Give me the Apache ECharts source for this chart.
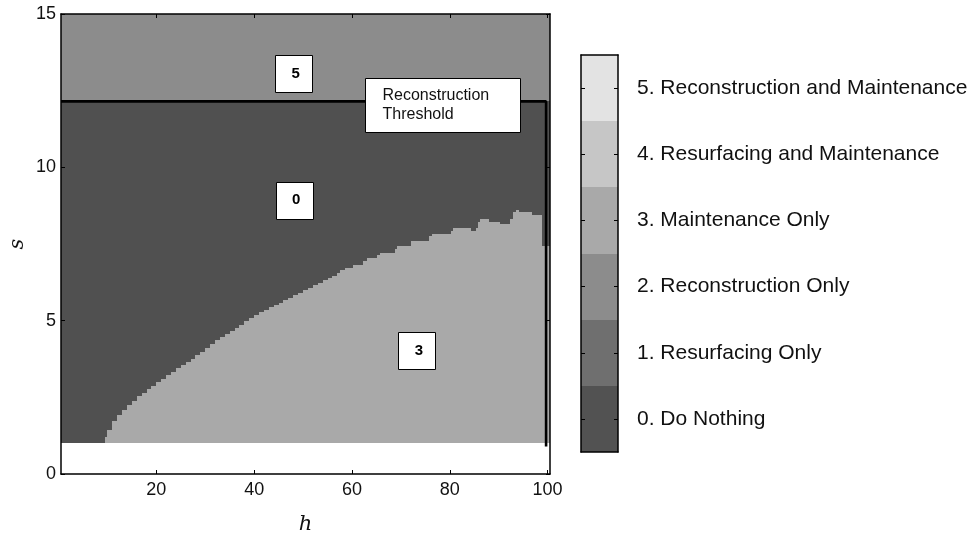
<!DOCTYPE html>
<html>
<head>
<meta charset="utf-8">
<script src="https://cdn.jsdelivr.net/npm/echarts@6/dist/echarts.min.js"></script>
<style>
  html, body { margin: 0; padding: 0; background: #fff; }
  #chart { width: 977px; height: 537px; }
</style>
</head>
<body>
<div id="chart"></div>
<script>
// ---- Strategy legend ----
const strategyCodes = [0, 1, 2, 3, 4, 5];
const strategyNames = [
  '0. Do Nothing',
  '1. Resurfacing Only',
  '2. Reconstruction Only',
  '3. Maintenance Only',
  '4. Resurfacing and Maintenance',
  '5. Reconstruction and Maintenance'
];
const legendShades = ['#525252', '#6f6f6f', '#8c8c8c', '#a9a9a9', '#c6c6c6', '#e3e3e3'];
// shades of the policy map itself, by strategy code
const mapShades = { 0: '#505050', 3: '#a9a9a9', 5: '#8c8c8c' };

// ---- Domain of the policy map ----
const hMin = 0.5, hMax = 100.5;
const sFloor = 1;          // no decision below this s
const sMax = 15;
const thresholdS = 12.15;  // reconstruction threshold in s
const thresholdH = 99.7;
const thresholdEndS = 0.9;

// ---- Boundary of the "Maintenance Only" zone: step start in h and step top in s ----
const stepStart = [
  9.4, 10, 11, 12, 13, 14, 15, 16, 17, 18, 19, 20, 21, 22, 23, 24, 25, 26, 27, 28, 29,
  30, 31, 32, 33, 34, 35, 36, 37, 38, 39, 40, 41, 42, 43, 44, 45, 46, 47, 48, 49,
  50, 51, 52, 53, 54, 55, 56, 57, 57.5, 58.6, 60.3, 62.2, 63.0, 65.2, 65.7, 68.8,
  69.2, 72.1, 75.8, 76.3, 80.3, 80.6, 84.3, 85.4, 85.7, 86.2, 88.1, 90.3, 92.3,
  92.9, 93.6, 94.2, 96.8, 98.8
];
const stepTop = [
  1.20, 1.45, 1.73, 1.92, 2.09, 2.24, 2.39, 2.53, 2.65, 2.76, 2.87, 2.99, 3.11, 3.22, 3.34, 3.45, 3.55, 3.65, 3.76, 3.87, 3.99,
  4.11, 4.24, 4.36, 4.47, 4.57, 4.67, 4.77, 4.87, 4.98, 5.08, 5.18, 5.27, 5.35, 5.43, 5.51, 5.59, 5.67, 5.75, 5.83, 5.91,
  5.99, 6.07, 6.15, 6.23, 6.31, 6.39, 6.47, 6.55, 6.66, 6.73, 6.82, 6.95, 7.04, 7.15, 7.22, 7.33,
  7.44, 7.61, 7.75, 7.83, 7.91, 8.01, 7.92, 8.01, 8.22, 8.31, 8.22, 8.15, 8.31,
  8.53, 8.62, 8.53, 8.44, 7.44
];

// ---- Axis ticks ----
const hTicks = [20, 40, 60, 80, 100];
const sTicks = [0, 5, 10, 15];

// ---- Region annotations ----
const regionNotes = [
  { text: '5', h: 48.1, s: 13.05 },
  { text: '0', h: 48.2, s: 8.93 },
  { text: '3', h: 73.3, s: 4.03 }
];
const thresholdNote = { text: 'Reconstruction\nThreshold', h: 78.6, s: 12.03 };

// Build region rectangles: [h0, h1, s0, s1, code]
const regionRects = [
  [hMin, hMax, thresholdS, sMax, 5],
  [hMin, hMax, sFloor, thresholdS, 0]
];
stepStart.forEach((h0, i) => {
  const h1 = i + 1 < stepStart.length ? stepStart[i + 1] : hMax;
  regionRects.push([h0, h1, sFloor, stepTop[i], 3]);
});

const thresholdLine = [[hMin, thresholdS], [thresholdH, thresholdS], [thresholdH, thresholdEndS]];

const labelFont = { fontFamily: 'Liberation Sans, Arial, sans-serif', color: '#111' };
const mathFont = { fontFamily: 'DejaVu Serif, Liberation Serif, serif', fontStyle: 'italic', fontSize: 21 };

const chart = echarts.init(document.getElementById('chart'), null, { renderer: 'canvas' });

const inTick = (vals, len) => ({ show: true, inside: true, length: len, customValues: vals, lineStyle: { color: '#000', width: 1 } });
const frameLine = { show: true, onZero: false, lineStyle: { color: '#000', width: 1.5 } };

chart.setOption({
  backgroundColor: '#fff',
  animation: false,
  grid: [
    { left: 61, top: 14, width: 489, height: 460, outerBoundsMode: 'none', containLabel: false },
    { left: 581, top: 55, width: 37, height: 397, outerBoundsMode: 'none', containLabel: false }
  ],
  // vertical axis title, set beside the s axis
  graphic: [
    {
      type: 'text', x: 18, y: 244, rotation: Math.PI / 2, silent: true,
      style: { text: 's', ...mathFont, fill: '#111', align: 'center', verticalAlign: 'middle' }
    }
  ],
  xAxis: [
    {
      gridIndex: 0, type: 'value', min: hMin, max: hMax, position: 'bottom', z: 10,
      axisLine: frameLine, splitLine: { show: false },
      axisTick: inTick(hTicks, 4),
      axisLabel: { customValues: hTicks, margin: 7, fontSize: 18, ...labelFont },
      name: 'h', nameLocation: 'middle', nameGap: 40,
      nameTextStyle: { ...mathFont, color: '#111' }
    },
    {
      gridIndex: 0, type: 'value', min: hMin, max: hMax, position: 'top', z: 10,
      axisLine: frameLine, splitLine: { show: false },
      axisTick: inTick(hTicks, 4), axisLabel: { show: false }
    },
    {
      gridIndex: 1, type: 'value', min: 0, max: 1, position: 'bottom', z: 10,
      axisLine: frameLine, splitLine: { show: false }, axisTick: { show: false }, axisLabel: { show: false }
    },
    {
      gridIndex: 1, type: 'value', min: 0, max: 1, position: 'top', z: 10,
      axisLine: frameLine, splitLine: { show: false }, axisTick: { show: false }, axisLabel: { show: false }
    }
  ],
  yAxis: [
    {
      gridIndex: 0, type: 'value', min: 0, max: sMax, interval: 5, position: 'left', z: 10,
      axisLine: frameLine, splitLine: { show: false },
      axisTick: inTick(sTicks, 4),
      axisLabel: { customValues: sTicks, margin: 5, fontSize: 18, ...labelFont }
    },
    {
      gridIndex: 0, type: 'value', min: 0, max: sMax, interval: 5, position: 'right', z: 10,
      axisLine: frameLine, splitLine: { show: false },
      axisTick: inTick(sTicks, 4), axisLabel: { show: false }
    },
    {
      gridIndex: 1, type: 'value', min: -0.5, max: 5.5, position: 'left', z: 10,
      axisLine: frameLine, splitLine: { show: false },
      axisTick: inTick(strategyCodes, 4), axisLabel: { show: false }
    },
    {
      gridIndex: 1, type: 'value', min: -0.5, max: 5.5, position: 'right', z: 10,
      axisLine: frameLine, splitLine: { show: false },
      axisTick: inTick(strategyCodes, 4),
      axisLabel: {
        customValues: strategyCodes, margin: 19, fontSize: 21, ...labelFont,
        formatter: v => strategyNames[Math.round(v)]
      }
    }
  ],
  series: [
    {
      // policy map regions
      type: 'custom', xAxisIndex: 0, yAxisIndex: 0, z: 2, silent: true,
      encode: { x: [0, 1], y: [2, 3] },
      data: regionRects,
      renderItem: (params, api) => {
        const p0 = api.coord([api.value(0), api.value(3)]);
        const p1 = api.coord([api.value(1), api.value(2)]);
        const x0 = Math.round(p0[0]), x1 = Math.round(p1[0]);
        const y0 = Math.round(p0[1]), y1 = Math.round(p1[1]);
        return {
          type: 'rect',
          shape: { x: x0, y: y0, width: x1 - x0, height: y1 - y0 },
          style: { fill: mapShades[api.value(4)] }
        };
      }
    },
    {
      // reconstruction threshold
      type: 'line', xAxisIndex: 0, yAxisIndex: 0, z: 3, silent: true,
      data: thresholdLine, symbol: 'none',
      lineStyle: { color: '#000', width: 2.6 }
    },
    {
      // numbered region boxes
      type: 'custom', xAxisIndex: 0, yAxisIndex: 0, z: 4, silent: true,
      data: regionNotes.map(n => [n.h, n.s]),
      renderItem: (params, api) => {
        const c = api.coord([api.value(0), api.value(1)]);
        const w = 37, hgt = 37;
        return {
          type: 'group',
          children: [
            { type: 'rect', shape: { x: Math.round(c[0] - w / 2) + 0.5, y: Math.round(c[1] - hgt / 2) + 0.5, width: w, height: hgt },
              style: { fill: '#fff', stroke: '#000', lineWidth: 1 } },
            { type: 'text', x: c[0] + 2, y: c[1],
              style: { text: regionNotes[params.dataIndex].text, fontSize: 15, fontWeight: 'bold',
                       fontFamily: 'Liberation Sans, Arial, sans-serif', fill: '#000', align: 'center', verticalAlign: 'middle' } }
          ]
        };
      }
    },
    {
      // threshold caption
      type: 'custom', xAxisIndex: 0, yAxisIndex: 0, z: 4, silent: true,
      data: [[thresholdNote.h, thresholdNote.s]],
      renderItem: (params, api) => {
        const c = api.coord([api.value(0), api.value(1)]);
        const w = 155, hgt = 54;
        const x = Math.round(c[0] - w / 2) + 0.5, y = Math.round(c[1] - hgt / 2) + 0.5;
        return {
          type: 'group',
          children: [
            { type: 'rect', shape: { x: x, y: y, width: w, height: hgt },
              style: { fill: '#fff', stroke: '#000', lineWidth: 1 } },
            { type: 'text', x: x + 17, y: c[1],
              style: { text: thresholdNote.text, fontSize: 16, lineHeight: 19,
                       fontFamily: 'Liberation Sans, Arial, sans-serif', fill: '#111', align: 'left', verticalAlign: 'middle' } }
          ]
        };
      }
    },
    {
      // colour bar bands
      type: 'custom', xAxisIndex: 2, yAxisIndex: 2, z: 2, silent: true,
      data: strategyCodes.map(c => [c]),
      encode: { y: 0 },
      renderItem: (params, api) => {
        const code = api.value(0);
        const p0 = api.coord([0, code + 0.5]);
        const p1 = api.coord([1, code - 0.5]);
        return {
          type: 'rect',
          shape: { x: p0[0], y: Math.round(p0[1]), width: p1[0] - p0[0], height: Math.round(p1[1]) - Math.round(p0[1]) },
          style: { fill: legendShades[code] }
        };
      }
    }
  ]
});
</script>
</body>
</html>
